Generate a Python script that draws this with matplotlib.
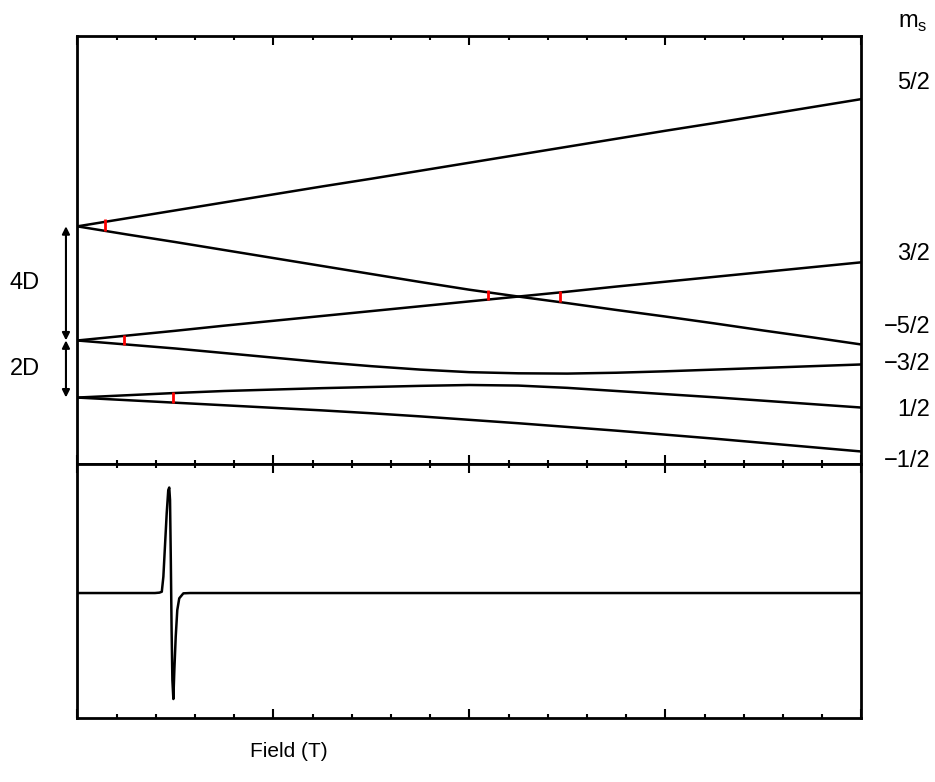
import matplotlib
matplotlib.use('Agg')
import matplotlib.pyplot as plt
from matplotlib.ticker import MultipleLocator
import matplotlib.transforms as mtransforms

plt.rcParams['font.family'] = ['Liberation Sans', 'DejaVu Sans']
plt.rcParams['font.size'] = 15

# Field axis (T) shared by all energy levels
field = [0.000, 0.025, 0.050, 0.075, 0.100, 0.125, 0.150, 0.175, 0.200,
         0.225, 0.250, 0.275, 0.300, 0.325, 0.350, 0.375, 0.400]

# Energy levels in units of D
level_p52 = [3.33, 3.61, 3.89, 4.17, 4.45, 4.73, 5.00, 5.28, 5.56,
             5.84, 6.12, 6.40, 6.68, 6.95, 7.23, 7.51, 7.79]
level_m52 = [3.33, 3.05, 2.78, 2.50, 2.22, 1.94, 1.66, 1.38, 1.11,
             0.87, 0.64, 0.40, 0.17, -0.07, -0.32, -0.56, -0.81]
level_p32 = [-0.67, -0.50, -0.33, -0.15, 0.02, 0.19, 0.36, 0.53, 0.70,
             0.87, 1.04, 1.22, 1.39, 1.56, 1.73, 1.90, 2.07]
level_m32 = [-0.67, -0.81, -0.95, -1.11, -1.27, -1.43, -1.57, -1.69, -1.78,
             -1.82, -1.83, -1.80, -1.75, -1.69, -1.63, -1.57, -1.51]
level_p12 = [-2.67, -2.59, -2.51, -2.44, -2.39, -2.34, -2.30, -2.26, -2.23,
             -2.25, -2.33, -2.44, -2.55, -2.66, -2.78, -2.90, -3.02]
level_m12 = [-2.67, -2.76, -2.85, -2.94, -3.03, -3.12, -3.22, -3.33, -3.45,
             -3.57, -3.70, -3.83, -3.97, -4.11, -4.26, -4.41, -4.56]
levels = [level_p52, level_m52, level_p32, level_m32, level_p12, level_m12]

# m_s labels and where they sit on the right (units of D)
ms_labels = ['5/2', '3/2', '\u22125/2', '\u22123/2', '1/2', '\u22121/2']
ms_label_pos = [8.35, 2.35, -0.21, -1.51, -3.09, -4.91]

# Resonant transitions (red bars): field, lower and upper energy
trans_field = [0.0141, 0.0240, 0.0486, 0.2097, 0.2463]
trans_low = [3.15, -0.84, -2.86, 0.74, 0.68]
trans_high = [3.58, -0.47, -2.47, 1.11, 1.07]

# Zero-field splittings
zfs_levels = [10 / 3, -2 / 3, -8 / 3]
zfs_labels = ['4D', '2D']

# Derivative EPR spectrum
spec_field = [0.0, 0.0396, 0.0419, 0.0431, 0.0439, 0.0447, 0.0456, 0.0464,
              0.0469, 0.0473, 0.0477, 0.0481, 0.0485, 0.0490, 0.0495, 0.0502,
              0.0510, 0.0520, 0.0541, 0.0575, 0.4]
spec_signal = [0.0, 0.0, 0.004, 0.013, 0.163, 0.463, 0.797, 1.03,
               1.055, 0.93, 0.33, -0.37, -0.87, -1.06, -0.77, -0.437,
               -0.17, -0.053, -0.003, 0.0, 0.0]


def style_axis(ax):
    ax.set_xlim(0, 0.4)
    ax.xaxis.set_major_locator(MultipleLocator(0.1))
    ax.xaxis.set_minor_locator(MultipleLocator(0.02))
    ax.tick_params(axis='x', which='both', direction='in', top=True,
                   bottom=True, labelbottom=False, width=1.5)
    ax.tick_params(axis='x', which='major', length=6.5)
    ax.tick_params(axis='x', which='minor', length=3)
    ax.set_yticks([])
    for sp in ax.spines.values():
        sp.set_linewidth(2)


fig = plt.figure(figsize=(9.35, 7.82), dpi=100)
ax_top = fig.add_axes([0.0827, 0.4066, 0.8385, 0.5473])
ax_bot = fig.add_axes([0.0827, 0.0818, 0.8385, 0.3248])

# energy levels
for lev in levels:
    ax_top.plot(field, lev, color='black', lw=1.8, solid_joinstyle='round')
ax_top.vlines(trans_field, trans_low, trans_high, color='red', lw=2)
ax_top.set_ylim(-5, 10)
style_axis(ax_top)

# labels on the right
right = mtransforms.blended_transform_factory(ax_top.transAxes, ax_top.transData)
for lab, pos in zip(ms_labels, ms_label_pos):
    ax_top.text(1.0876, pos, lab, ha='right', va='center', fontsize=17,
                transform=right)
ax_top.text(1.066, 10.45, r'm$_\mathregular{s}$', ha='center', va='center',
            fontsize=17, transform=right)

# zero field splitting arrows
arrow_x = -0.0058
for lo, hi, lab in zip(zfs_levels[1:], zfs_levels[:-1], zfs_labels):
    ax_top.annotate('', xy=(arrow_x, hi), xytext=(arrow_x, lo),
                    arrowprops=dict(arrowstyle='<|-|>', color='black', lw=1.5,
                                    mutation_scale=11, shrinkA=0, shrinkB=0),
                    annotation_clip=False)
    ax_top.text(-0.0267, (lo + hi) / 2, lab, ha='center', va='center',
                fontsize=17)

# spectrum
ax_bot.plot(spec_field, spec_signal, color='black', lw=1.8, solid_joinstyle='round')
ax_bot.set_ylim(-1.25, 1.29)
style_axis(ax_bot)

fig.text(0.309, 0.0384, 'Field (T)', ha='center', va='center')

fig.savefig('out.png', dpi=100)
